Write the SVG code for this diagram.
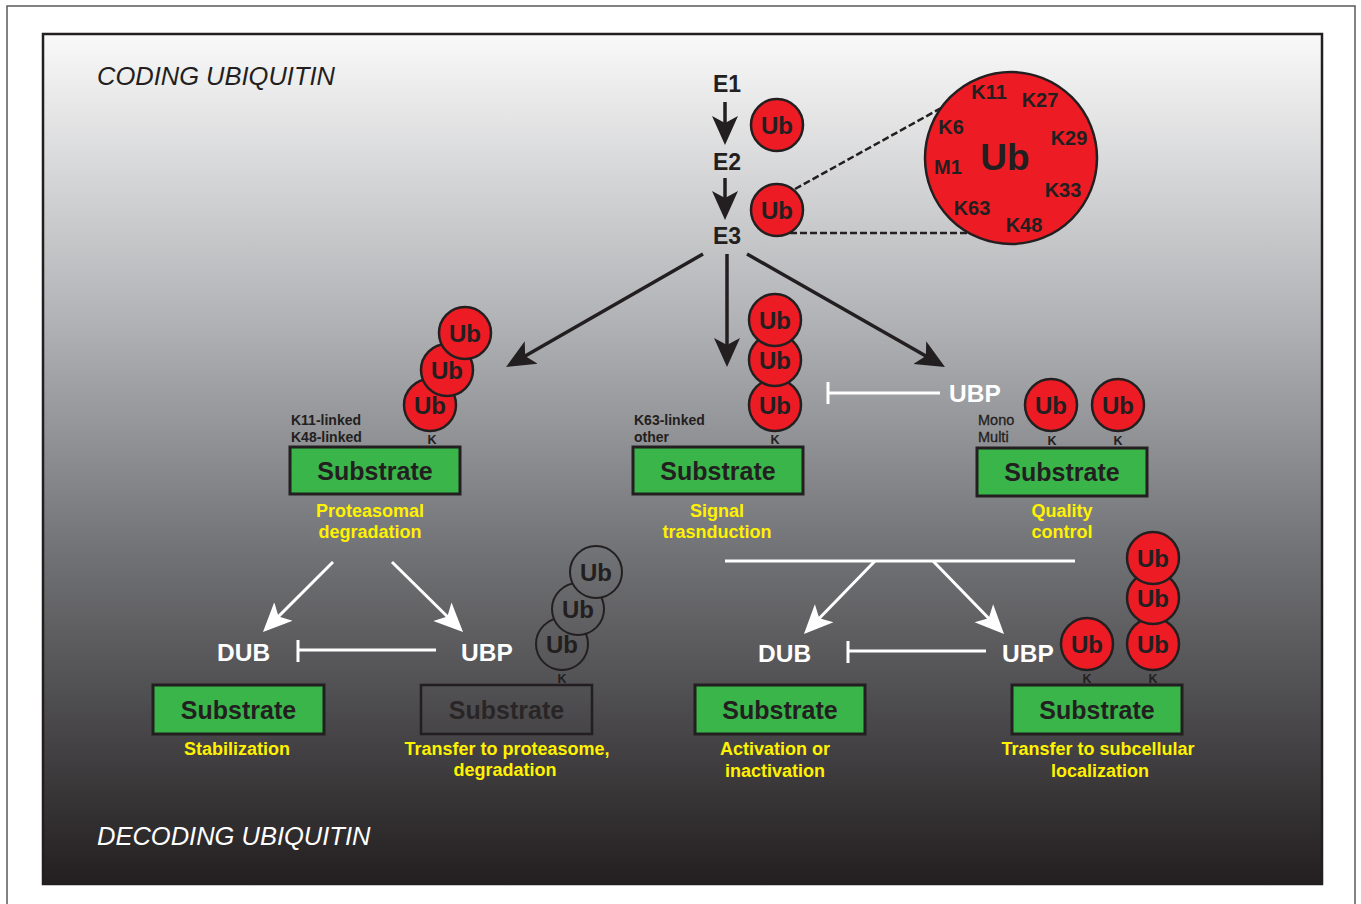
<svg xmlns="http://www.w3.org/2000/svg" width="1361" height="904" viewBox="0 0 1361 904">
<style>
text{font-family:"Liberation Sans",Arial,Helvetica,sans-serif;}
.b{font-weight:bold;}
.dk{fill:#231f20;}
.wt{fill:#ffffff;}
.yl{fill:#fff200;font-weight:bold;font-size:18px;text-anchor:middle;}
.ub{fill:#ed1c24;stroke:#231f20;stroke-width:2.5;}
.ghost{fill:url(#bg);stroke:#231f20;stroke-width:2;}
.ubt{font-weight:bold;font-size:24px;text-anchor:middle;fill:#231f20;}
.sub{fill:#39b54a;stroke:#231f20;stroke-width:3;}
.subt{font-weight:bold;font-size:25px;text-anchor:middle;fill:#231f20;}
.k{font-weight:bold;font-size:12.5px;text-anchor:middle;fill:#231f20;}
.kl{font-weight:bold;font-size:14px;fill:#231f20;}
.kc{font-weight:bold;font-size:20px;text-anchor:middle;fill:#231f20;}
.enz{font-weight:bold;font-size:23px;text-anchor:middle;fill:#231f20;}
.wl{font-weight:bold;font-size:24.5px;fill:#ffffff;}
.ba{stroke:#231f20;stroke-width:3.5;fill:none;marker-end:url(#ahb);}
.wa{stroke:#ffffff;stroke-width:3;fill:none;marker-end:url(#ahw);}
.inh{stroke:#ffffff;stroke-width:3;fill:none;}
.dash{stroke:#231f20;stroke-width:2.5;stroke-dasharray:7 3;fill:none;}
.mm{font-size:14.5px;fill:#231f20;stroke:#231f20;stroke-width:0.3;}
</style>
<defs>
<linearGradient id="bg" gradientUnits="userSpaceOnUse" x1="0" y1="34" x2="0" y2="884">
<stop offset="0" stop-color="#f9f9f9"/>
<stop offset="0.33" stop-color="#b3b4b7"/>
<stop offset="0.62" stop-color="#6f7073"/>
<stop offset="1" stop-color="#231f20"/>
</linearGradient>
<marker id="ahb" markerUnits="userSpaceOnUse" markerWidth="32" markerHeight="30" viewBox="0 -15 32 30" refX="9" refY="0" orient="auto">
<path d="M0,-13 L29,0 L0,13 L7,0 Z" fill="#231f20"/>
</marker>
<marker id="ahw" markerUnits="userSpaceOnUse" markerWidth="32" markerHeight="30" viewBox="0 -15 32 30" refX="9" refY="0" orient="auto">
<path d="M0,-13 L29,0 L0,13 L7,0 Z" fill="#ffffff"/>
</marker>
</defs>

<rect x="7" y="6" width="1348" height="920" fill="#ffffff" stroke="#58595b" stroke-width="1.5"/>
<rect x="43" y="34" width="1279" height="850" fill="url(#bg)" stroke="#231f20" stroke-width="2.5"/>

<text x="97" y="85" font-size="25.5" font-style="italic" class="dk">CODING UBIQUITIN</text>
<text x="97" y="845" font-size="25.5" font-style="italic" class="wt">DECODING UBIQUITIN</text>

<g id="connectors">
<line class="ba" x1="725" y1="102" x2="725" y2="125"/>
<line class="ba" x1="725" y1="178" x2="725" y2="200"/>
<line class="ba" x1="703" y1="254" x2="523.4" y2="357"/>
<line class="ba" x1="727" y1="254" x2="727" y2="347"/>
<line class="ba" x1="747" y1="254" x2="927.6" y2="357.1"/>
<line class="dash" x1="795" y1="189" x2="943" y2="107"/>
<line class="dash" x1="790" y1="233" x2="970" y2="233"/>
<path class="inh" d="M828,382 V404 M828,393 H940"/>
<line class="wa" x1="333" y1="562" x2="277.1" y2="617.9"/>
<line class="wa" x1="392" y1="562" x2="448.8" y2="618"/>
<path class="inh" d="M298,640 V662 M298,650 H436"/>
<line class="inh" x1="725" y1="561" x2="1075" y2="561"/>
<line class="wa" x1="875" y1="561" x2="817.9" y2="619.7"/>
<line class="wa" x1="933" y1="561" x2="990.1" y2="619.7"/>
<path class="inh" d="M848,641 V663 M848,651 H986"/>
</g>

<g id="enzymes">
<text x="727" y="92" class="enz">E1</text>
<text x="727" y="170" class="enz">E2</text>
<text x="727" y="244" class="enz">E3</text>
</g>

<g id="ub-free">
<circle class="ub" cx="777" cy="125" r="26"/>
<text x="777" y="133.5" class="ubt">Ub</text>
<circle class="ub" cx="777" cy="210" r="26"/>
<text x="777" y="218.5" class="ubt">Ub</text>
</g>

<g id="ub-big">
<circle class="ub" cx="1011" cy="158" r="86"/>
<text x="1005" y="170" font-size="37" class="b dk" text-anchor="middle">Ub</text>
<text x="989" y="99" class="kc">K11</text>
<text x="1040" y="107" class="kc">K27</text>
<text x="951" y="134" class="kc">K6</text>
<text x="1069" y="145" class="kc">K29</text>
<text x="948" y="174" class="kc">M1</text>
<text x="1063" y="197" class="kc">K33</text>
<text x="972" y="215" class="kc">K63</text>
<text x="1024" y="232" class="kc">K48</text>
</g>

<g id="proteasomal">
<circle class="ub" cx="430" cy="405" r="26"/>
<text x="430" y="413.5" class="ubt">Ub</text>
<circle class="ub" cx="447" cy="370" r="26"/>
<text x="447" y="378.5" class="ubt">Ub</text>
<circle class="ub" cx="465" cy="333" r="26"/>
<text x="465" y="341.5" class="ubt">Ub</text>
<text x="432" y="444" class="k">K</text>
<text x="291" y="425" class="kl">K11-linked</text>
<text x="291" y="442" class="kl">K48-linked</text>
<rect class="sub" x="290" y="447" width="170" height="47"/>
<text x="375" y="480" class="subt">Substrate</text>
<text x="370" y="517" class="yl">Proteasomal</text>
<text x="370" y="538" class="yl">degradation</text>
</g>

<g id="signal">
<circle class="ub" cx="775" cy="405" r="26"/>
<text x="775" y="413.5" class="ubt">Ub</text>
<circle class="ub" cx="775" cy="360" r="26"/>
<text x="775" y="368.5" class="ubt">Ub</text>
<circle class="ub" cx="775" cy="320" r="26"/>
<text x="775" y="328.5" class="ubt">Ub</text>
<text x="775" y="444" class="k">K</text>
<text x="634" y="425" class="kl">K63-linked</text>
<text x="634" y="442" class="kl">other</text>
<rect class="sub" x="633" y="447" width="170" height="47"/>
<text x="718" y="480" class="subt">Substrate</text>
<text x="717" y="517" class="yl">Signal</text>
<text x="717" y="538" class="yl">trasnduction</text>
</g>

<g id="quality">
<text x="949" y="402" class="wl">UBP</text>
<circle class="ub" cx="1051" cy="405" r="26"/>
<text x="1051" y="413.5" class="ubt">Ub</text>
<circle class="ub" cx="1118" cy="405" r="26"/>
<text x="1118" y="413.5" class="ubt">Ub</text>
<text x="1052" y="445" class="k">K</text>
<text x="1118" y="445" class="k">K</text>
<text x="978" y="425" class="mm">Mono</text>
<text x="978" y="442" class="mm">Multi</text>
<rect class="sub" x="977" y="448" width="170" height="48"/>
<text x="1062" y="481" class="subt">Substrate</text>
<text x="1062" y="517" class="yl">Quality</text>
<text x="1062" y="538" class="yl">control</text>
</g>

<g id="stabilization">
<text x="217" y="661" class="wl">DUB</text>
<rect class="sub" x="153" y="685" width="171" height="49"/>
<text x="238.5" y="718.5" class="subt">Substrate</text>
<text x="237" y="755" class="yl">Stabilization</text>
</g>

<g id="transfer-proteasome">
<text x="461" y="661" class="wl">UBP</text>
<circle class="ghost" cx="562" cy="644" r="26"/>
<text x="562" y="652.5" class="ubt">Ub</text>
<circle class="ghost" cx="578" cy="609" r="26"/>
<text x="578" y="617.5" class="ubt">Ub</text>
<circle class="ghost" cx="596" cy="572" r="26"/>
<text x="596" y="580.5" class="ubt">Ub</text>
<text x="562" y="683" class="k">K</text>
<rect x="421" y="685" width="171" height="49" fill="none" stroke="#231f20" stroke-width="2.5"/>
<text x="506.5" y="718.5" class="subt" fill-opacity="0.85">Substrate</text>
<text x="507" y="755" class="yl">Transfer to proteasome,</text>
<text x="505" y="776" class="yl">degradation</text>
</g>

<g id="activation">
<text x="758" y="662" class="wl">DUB</text>
<rect class="sub" x="695" y="685" width="170" height="49"/>
<text x="780" y="718.5" class="subt">Substrate</text>
<text x="775" y="755" class="yl">Activation or</text>
<text x="775" y="777" class="yl">inactivation</text>
</g>

<g id="subcellular">
<text x="1002" y="662" class="wl">UBP</text>
<circle class="ub" cx="1087" cy="644" r="26"/>
<text x="1087" y="652.5" class="ubt">Ub</text>
<circle class="ub" cx="1153" cy="644" r="26"/>
<text x="1153" y="652.5" class="ubt">Ub</text>
<circle class="ub" cx="1153" cy="598" r="26"/>
<text x="1153" y="606.5" class="ubt">Ub</text>
<circle class="ub" cx="1153" cy="558" r="26"/>
<text x="1153" y="566.5" class="ubt">Ub</text>
<text x="1087" y="683" class="k">K</text>
<text x="1153" y="683" class="k">K</text>
<rect class="sub" x="1012" y="685" width="170" height="49"/>
<text x="1097" y="718.5" class="subt">Substrate</text>
<text x="1098" y="755" class="yl">Transfer to subcellular</text>
<text x="1100" y="777" class="yl">localization</text>
</g>
</svg>
